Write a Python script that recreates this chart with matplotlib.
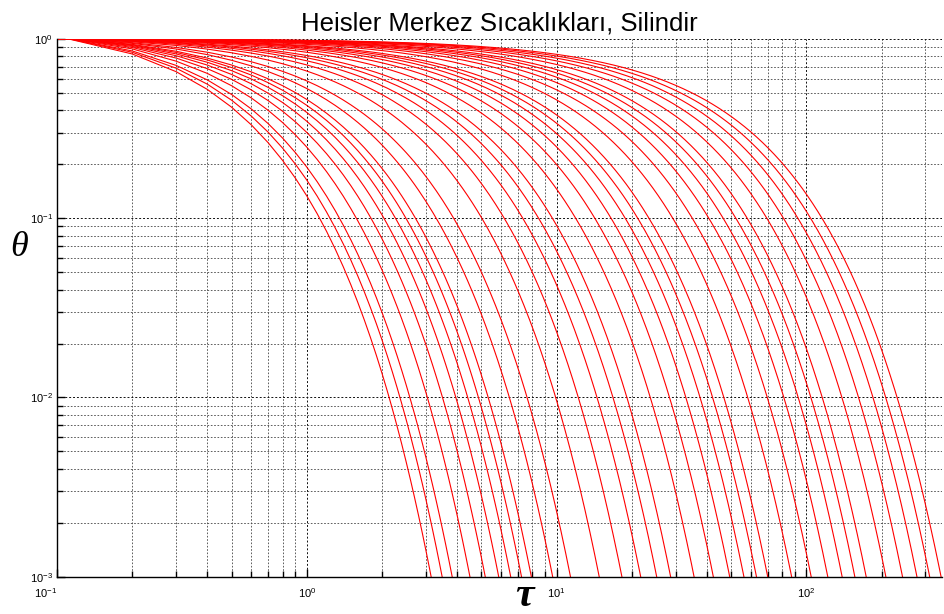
import math
import numpy as np
import matplotlib
matplotlib.use('Agg')
import matplotlib.pyplot as plt
from matplotlib.ticker import LogLocator, LogFormatterMathtext

plt.rcParams['font.family'] = ['Liberation Sans', 'DejaVu Sans']
plt.rcParams['mathtext.fontset'] = 'custom'
plt.rcParams['mathtext.rm'] = 'Liberation Sans'
plt.rcParams['mathtext.it'] = 'Liberation Sans:italic'
plt.rcParams['mathtext.default'] = 'regular'

# 1/Bi values, one curve each
inv_biot = [0.6, 0.7, 0.8, 1.0, 1.2, 1.4, 1.6, 1.8, 2.0, 2.5, 3, 4, 5, 6, 7, 8,
            10, 12, 14, 16, 18, 20, 25, 30, 35, 40, 45, 50, 60, 70, 80, 90, 100]

# Fourier number range
tau_start = 0.1
tau_end = 350.0
tau_step = 0.1

x_ticks = [0.1, 1, 10, 100]
y_ticks = [0.001, 0.01, 0.1, 1]


def bessel_j(n, x):
    # power series for J0 / J1, fine for x < 3
    total = 0.0
    for k in range(30):
        total += (-1) ** k * (x / 2.0) ** (2 * k + n) / (math.factorial(k) * math.factorial(k + n))
    return total


def first_eigenvalue(bi):
    # zeta*J1(zeta) = Bi*J0(zeta), root below 2.4048
    lo, hi = 1e-8, 2.40482
    for _ in range(80):
        mid = 0.5 * (lo + hi)
        f = mid * bessel_j(1, mid) - bi * bessel_j(0, mid)
        if f > 0:
            hi = mid
        else:
            lo = mid
    return 0.5 * (lo + hi)


tau = np.arange(tau_start, tau_end + tau_step / 2, tau_step)

fig = plt.figure(figsize=(9.44, 6.14), dpi=100)
ax = fig.add_axes([0.0604, 0.0607, 0.9377, 0.8758])

for ib in inv_biot:
    bi = 1.0 / ib
    z = first_eigenvalue(bi)
    j0 = bessel_j(0, z)
    j1 = bessel_j(1, z)
    a1 = 2.0 * j1 / (z * (j0 ** 2 + j1 ** 2))
    theta = a1 * np.exp(-z ** 2 * tau)
    keep = theta > 1e-4
    ax.plot(tau[keep], theta[keep], color='#ff0000', lw=0.8)

ax.set_xscale('log')
ax.set_yscale('log')
ax.set_xlim(tau_start, tau_end)
ax.set_ylim(1e-3, 1)
ax.set_xticks(x_ticks)
ax.set_yticks(y_ticks)
ax.xaxis.set_major_formatter(LogFormatterMathtext())
ax.yaxis.set_major_formatter(LogFormatterMathtext())
ax.xaxis.set_minor_locator(LogLocator(base=10, subs=np.arange(2, 10)))
ax.yaxis.set_minor_locator(LogLocator(base=10, subs=np.arange(2, 10)))

ax.grid(True, which='major', color='#111111', ls=(0, (2, 2)), lw=0.7)
ax.grid(True, which='minor', color='#444444', ls=(0, (2, 2)), lw=0.6)
ax.set_axisbelow(True)

for side in ['top', 'right']:
    ax.spines[side].set_visible(False)
for side in ['left', 'bottom']:
    ax.spines[side].set_linewidth(1.0)

ax.tick_params(which='major', direction='in', length=6, width=1.0, labelsize=8)
ax.tick_params(which='minor', direction='in', length=4, width=1.0)
ax.tick_params(axis='x', pad=7)
ax.tick_params(axis='y', pad=3)
# first x label sits left of the corner
ax.get_xticklabels()[0].set_horizontalalignment('right')

ax.set_title('Heisler Merkez Sıcaklıkları, Silindir', fontsize=18.5, pad=6)
fig.text(0.020, 0.597, 'θ', fontsize=26, ha='center', va='center',
         family='Liberation Serif', style='italic')
fig.text(0.556, 0.030, 'τ', fontsize=30, ha='center', va='center',
         family='Liberation Serif', style='italic', weight='bold')

fig.savefig('out.png', dpi=100)
